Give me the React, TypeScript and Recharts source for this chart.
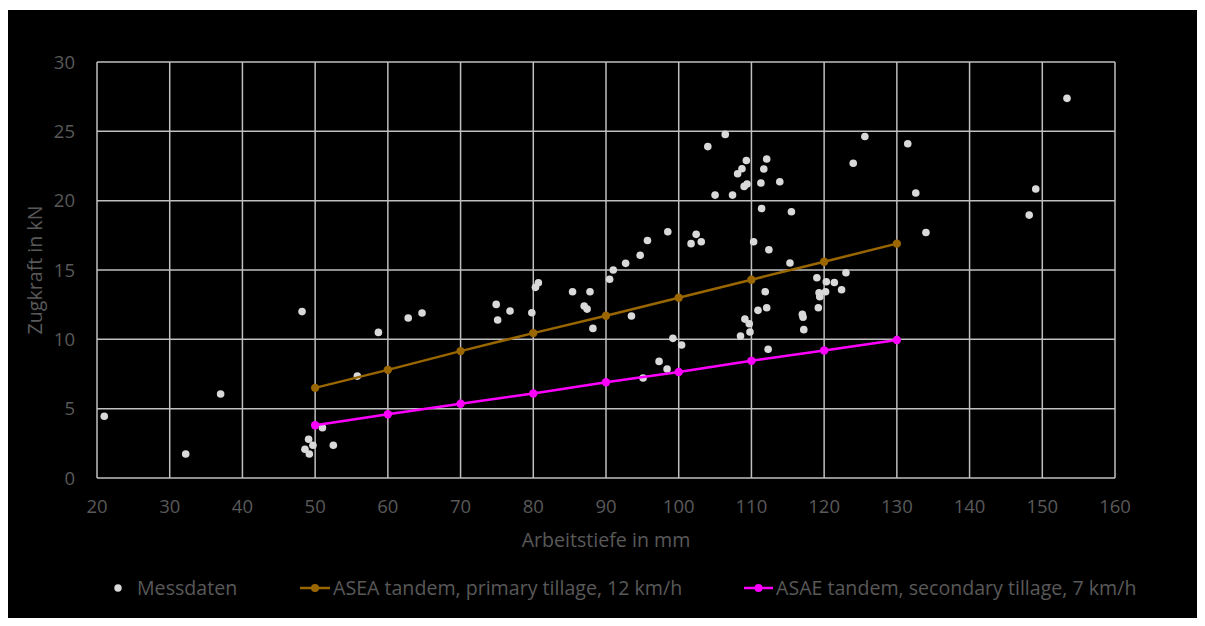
import React from 'react';
import { ScatterChart, Scatter, XAxis, YAxis, CartesianGrid, Legend } from 'recharts';

// Messdaten: Arbeitstiefe (mm) / Zugkraft (kN)
const messTiefe = [
  21.0, 32.2, 37.0, 48.2, 48.6, 49.1, 49.2, 49.7, 51.0, 52.5, 55.8, 58.7, 62.8, 64.7,
  74.9, 75.1, 76.8, 79.8, 80.3, 80.7, 85.4, 87.0, 87.4, 87.8, 88.2, 90.5, 91.0, 92.7,
  93.5, 94.7, 95.1, 95.7, 97.3, 98.4, 98.5, 99.2, 100.4, 101.7, 102.4, 103.1, 104.0,
  105.0, 106.4, 107.4, 108.1, 108.5, 108.7, 109.0, 109.1, 109.3, 109.4, 109.7, 109.8,
  110.3, 110.9, 111.3, 111.4, 111.7, 111.9, 112.1, 112.1, 112.3, 112.4, 113.9, 115.3,
  115.5, 117.0, 117.1, 117.2, 119.0, 119.2, 119.3, 119.4, 120.2, 120.3, 121.4, 122.4,
  123.0, 124.0, 125.6, 131.5, 132.6, 134.0, 148.2, 149.1, 153.4,
];
const messZugkraft = [
  4.45, 1.73, 6.06, 12.0, 2.07, 2.79, 1.73, 2.36, 3.63, 2.36, 7.35, 10.5, 11.54, 11.9,
  12.52, 11.39, 12.04, 11.92, 13.75, 14.08, 13.43, 12.4, 12.18, 13.43, 10.79, 14.33, 15.0, 15.48,
  11.68, 16.06, 7.21, 17.13, 8.41, 7.86, 17.76, 10.07, 9.59, 16.9, 17.57, 17.04, 23.9,
  20.4, 24.78, 20.4, 21.94, 10.24, 22.3, 21.03, 11.46, 22.9, 21.2, 11.12, 10.53,
  17.04, 12.09, 21.27, 19.44, 22.28, 13.43, 23.0, 12.28, 9.28, 16.46, 21.36, 15.5,
  19.2, 11.8, 11.6, 10.7, 14.44, 12.28, 13.36, 13.07, 13.43, 14.15, 14.1, 13.58,
  14.8, 22.7, 24.63, 24.1, 20.55, 17.7, 18.96, 20.84, 27.38,
];

// Model curves
const modelTiefe = [50, 60, 70, 80, 90, 100, 110, 120, 130];
const primaryZugkraft = [6.5, 7.8, 9.15, 10.45, 11.7, 13.0, 14.3, 15.6, 16.9];
const secondaryZugkraft = [3.8, 4.6, 5.35, 6.1, 6.9, 7.65, 8.45, 9.2, 9.95];

const xTicks = [20, 30, 40, 50, 60, 70, 80, 90, 100, 110, 120, 130, 140, 150, 160];
const yTicks = [0, 5, 10, 15, 20, 25, 30];

const seriesNames = [
  'Messdaten',
  'ASEA tandem, primary tillage, 12 km/h',
  'ASAE tandem, secondary tillage, 7 km/h',
];

const messData = messTiefe.map((x, i) => ({ x, y: messZugkraft[i] }));
const primaryData = modelTiefe.map((x, i) => ({ x, y: primaryZugkraft[i] }));
const secondaryData = modelTiefe.map((x, i) => ({ x, y: secondaryZugkraft[i] }));

const FONT = '"Open Sans", sans-serif';
const FS = 18.5;
const FS_LABEL = 19.6;
const TEXT = '#595959';
const GRID = '#BFBFBF';
const POINT = '#D9D9D9';
const BROWN = '#996600';
const MAGENTA = '#FF00FF';

const dot = (color: string, r: number) => (props: any) => (
  <circle cx={props.cx} cy={props.cy} r={r} fill={color} stroke="none" />
);

const LegendContent = () => (
  <div style={{ position: 'relative', width: 1189, height: 24, fontFamily: FONT, fontSize: FS_LABEL, color: TEXT, lineHeight: '24px' }}>
    <div style={{ position: 'absolute', left: 106, top: 0, display: 'flex', alignItems: 'center', height: 24 }}>
      <svg width={8} height={8}><circle cx={4} cy={4} r={3.7} fill={POINT} /></svg>
      <span style={{ marginLeft: 15 }}>{seriesNames[0]}</span>
    </div>
    <div style={{ position: 'absolute', left: 292, top: 0, display: 'flex', alignItems: 'center', height: 24 }}>
      <svg width={30} height={10}>
        <line x1={0} y1={5} x2={30} y2={5} stroke={BROWN} strokeWidth={2.5} />
        <circle cx={15} cy={5} r={4} fill={BROWN} />
      </svg>
      <span style={{ marginLeft: 3 }}>{seriesNames[1]}</span>
    </div>
    <div style={{ position: 'absolute', left: 736, top: 0, display: 'flex', alignItems: 'center', height: 24 }}>
      <svg width={29} height={10}>
        <line x1={0} y1={5} x2={29} y2={5} stroke={MAGENTA} strokeWidth={2.5} />
        <circle cx={14.5} cy={5} r={4} fill={MAGENTA} />
      </svg>
      <span style={{ marginLeft: 3 }}>{seriesNames[2]}</span>
    </div>
  </div>
);

export default function App() {
  const tickStyle = { fill: TEXT, fontSize: FS, fontFamily: FONT };
  return (
    <div style={{ position: 'absolute', left: 8, top: 10, width: 1189, height: 608, background: '#000' }}>
      <ScatterChart
        width={1189}
        height={608}
        margin={{ top: 52, right: 82, bottom: 22, left: 0 }}
      >
        <CartesianGrid stroke={GRID} strokeWidth={1.5} />
        <XAxis
          type="number"
          dataKey="x"
          domain={[20, 160]}
          ticks={xTicks}
          allowDataOverflow
          axisLine={false}
          tickLine={false}
          tickSize={0}
          tickMargin={22}
          tick={tickStyle}
          height={118}
          label={{
            content: (p: any) => (
              <text
                x={p.viewBox.x + p.viewBox.width / 2}
                y={p.viewBox.y + 69}
                textAnchor="middle"
                fill={TEXT}
                fontSize={FS_LABEL}
                fontFamily={FONT}
              >
                Arbeitstiefe in mm
              </text>
            ),
          }}
        />
        <YAxis
          type="number"
          dataKey="y"
          domain={[0, 30]}
          ticks={yTicks}
          allowDataOverflow
          axisLine={false}
          tickLine={false}
          tickSize={0}
          tickMargin={22}
          tick={tickStyle}
          width={89}
          label={{
            content: (p: any) => {
              const cx = p.viewBox.x + 34;
              const cy = p.viewBox.y + p.viewBox.height / 2;
              return (
                <text
                  x={cx}
                  y={cy}
                  transform={`rotate(-90, ${cx}, ${cy})`}
                  textAnchor="middle"
                  fill={TEXT}
                  fontSize={FS_LABEL}
                  fontFamily={FONT}
                >
                  Zugkraft in kN
                </text>
              );
            },
          }}
        />
        <Legend
          verticalAlign="middle"
          align="center"
          layout="horizontal"
          content={<LegendContent />}
          wrapperStyle={{ top: 566, left: 0, width: 1189 }}
        />
        <Scatter
          name={seriesNames[0]}
          data={messData}
          fill={POINT}
          shape={dot(POINT, 3.8)}
          isAnimationActive={false}
        />
        <Scatter
          name={seriesNames[1]}
          data={primaryData}
          fill={BROWN}
          line={{ stroke: BROWN, strokeWidth: 2.5 }}
          shape={dot(BROWN, 4.2)}
          isAnimationActive={false}
        />
        <Scatter
          name={seriesNames[2]}
          data={secondaryData}
          fill={MAGENTA}
          line={{ stroke: MAGENTA, strokeWidth: 2.5 }}
          shape={dot(MAGENTA, 4.2)}
          isAnimationActive={false}
        />
      </ScatterChart>
    </div>
  );
}
